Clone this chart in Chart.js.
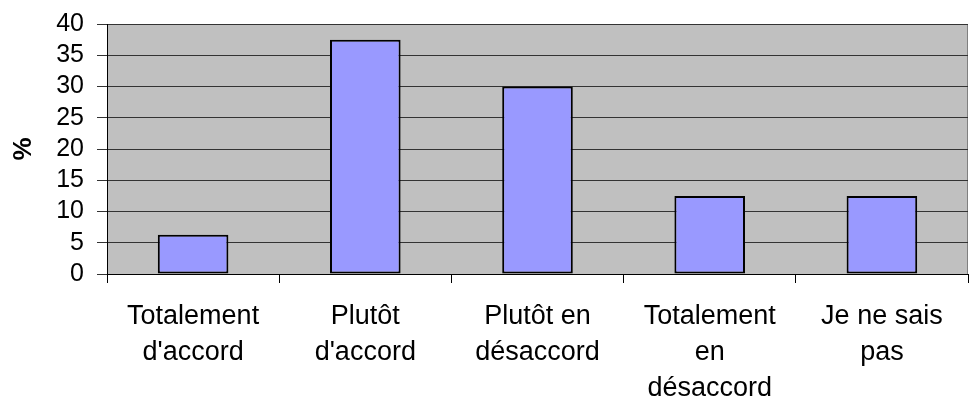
<!DOCTYPE html>
<html>
<head>
<meta charset="utf-8">
<script src="https://cdn.jsdelivr.net/npm/chart.js@4/dist/chart.umd.min.js"></script>
<style>
  html, body { margin: 0; padding: 0; background: #fff; }
  #wrap { width: 972px; height: 402px; }
</style>
</head>
<body>
<div id="wrap"><canvas id="chart" width="972" height="402"></canvas></div>
<script>
// Data
const categories = [
    ['Totalement', "d'accord"],
    ['Plutôt', "d'accord"],
    ['Plutôt en', 'désaccord'],
    ['Totalement', 'en', 'désaccord'],
    ['Je ne sais', 'pas']
];
const percents = [6.3, 37.5, 30, 12.5, 12.5];
const yTicks = [0, 5, 10, 15, 20, 25, 30, 35, 40];

const FONT = 'Arial, "Liberation Sans", sans-serif';

// Paint the grey plot area and its thin border
const plotBackground = {
    id: 'plotBackground',
    beforeDraw(chart) {
        const { ctx, chartArea: a } = chart;
        ctx.save();
        ctx.fillStyle = '#c0c0c0';
        ctx.fillRect(a.left, a.top, a.right - a.left, a.bottom - a.top);
        ctx.strokeStyle = '#808080';
        ctx.lineWidth = 1;
        ctx.strokeRect(a.left + 0.5, a.top + 0.5, a.right - a.left - 1, a.bottom - a.top);
        ctx.restore();
    }
};

new Chart(document.getElementById('chart').getContext('2d'), {
    type: 'bar',
    data: {
        labels: categories,
        datasets: [{
            data: percents,
            backgroundColor: '#9999ff',
            borderColor: '#000',
            borderWidth: 2,
            borderSkipped: false,
            categoryPercentage: 1,
            barPercentage: 0.41
        }]
    },
    options: {
        responsive: false,
        animation: false,
        layout: { padding: { left: 0, right: 4, top: 24, bottom: 0 } },
        plugins: {
            legend: { display: false },
            tooltip: { enabled: false }
        },
        scales: {
            x: {
                afterFit(scale) { scale.height = 128; },
                grid: {
                    offset: true,
                    drawOnChartArea: false,
                    color: '#000',
                    tickLength: 9
                },
                border: { color: '#000', width: 1 },
                ticks: {
                    color: '#000',
                    font: { family: FONT, size: 27, lineHeight: 1.33 },
                    padding: 16,
                    maxRotation: 0,
                    autoSkip: false
                }
            },
            y: {
                min: 0,
                max: 40,
                afterFit(scale) { scale.width = 107; },
                afterBuildTicks(scale) { scale.ticks = yTicks.map(v => ({ value: v })); },
                grid: {
                    color: '#333',
                    tickLength: 10
                },
                border: { color: '#000', width: 1 },
                ticks: {
                    color: '#000',
                    font: { family: FONT, size: 25, lineHeight: 0.8 },
                    padding: 13,
                    autoSkip: false
                },
                title: {
                    display: true,
                    text: '%',
                    color: '#000',
                    font: { family: FONT, size: 26, weight: 'bold' },
                    padding: { top: 8, bottom: 0 }
                }
            }
        }
    },
    plugins: [plotBackground]
});
</script>
</body>
</html>
